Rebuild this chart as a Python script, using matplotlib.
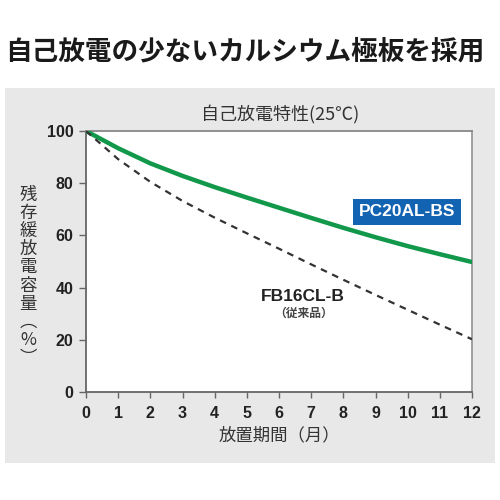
import matplotlib
matplotlib.use("Agg")
import matplotlib.pyplot as plt
from matplotlib.patches import Rectangle

plt.rcParams['font.family'] = ['Liberation Sans', 'Noto Sans CJK JP', 'DejaVu Sans']

# data
months = [0, 1, 2, 3, 4, 5, 6, 7, 8, 9, 10, 11, 12]
pc20al_bs = [100, 93.4, 87.6, 82.8, 78.5, 74.5, 70.6, 66.7, 62.9, 59.3, 55.9, 52.8, 49.8]
fb16cl_b = [100, 89.2, 80.5, 73.2, 66.8, 60.8, 54.9, 48.9, 43.0, 37.2, 31.5, 25.8, 20.2]

x_ticks = list(range(13))
y_ticks = [0, 20, 40, 60, 80, 100]

title = "自己放電の少ないカルシウム極板を採用"
subtitle = "自己放電特性(25℃)"
x_label = "放置期間（月）"
y_label = ["残", "存", "緩", "放", "電", "容", "量", "︵", "%", "︶"]

green = "#12984a"
blue = "#1363b3"
dark = "#222222"
cjk = ['Noto Sans CJK JP', 'DejaVu Sans']

fig = plt.figure(figsize=(5, 5), dpi=100)
fig.patch.set_facecolor("white")

# gray panel behind the chart
fig.patches.append(Rectangle((0.01, 0.074), 0.98, 0.75, transform=fig.transFigure,
                             facecolor="#e8e8e8", edgecolor="none", zorder=-5))

fig.text(0.49, 0.896, title, ha="center", va="center", fontsize=19.2,
         fontweight="bold", family=cjk, color="#1a1a1a")
fig.text(0.56, 0.77, subtitle, ha="center", va="center", fontsize=13,
         family=cjk, color="#333333")

ax = fig.add_axes([0.172, 0.216, 0.772, 0.522])
ax.set_zorder(2)
ax.set_facecolor("white")

ax.plot(months, pc20al_bs, color=green, lw=3.2, solid_capstyle="round", zorder=3)
ax.plot(months, fb16cl_b, color="#333333", lw=1.6, dashes=(3, 2.6), zorder=3)

ax.set_xlim(0, 12)
ax.set_ylim(0, 100)
ax.set_xticks(x_ticks)
ax.set_yticks(y_ticks)
ax.set_xticklabels([str(v) for v in x_ticks], fontweight="bold", fontsize=11.5, color=dark)
ax.set_yticklabels([str(v) for v in y_ticks], fontweight="bold", fontsize=11.5, color=dark)
ax.tick_params(axis="y", direction="out", length=5, width=1, color="#666666", pad=4)
ax.tick_params(axis="x", direction="out", length=4, width=1, color="#666666", pad=6)
for s in ax.spines.values():
    s.set_color("#666666")
    s.set_linewidth(1.3)
ax.spines["right"].set_color("#999999")
ax.spines["top"].set_color("#888888")

ax.set_xlabel(x_label, family=cjk, fontsize=12.5, color="#333333", labelpad=4)

# vertical y label, one character per row
for i, ch in enumerate(y_label):
    fig.text(0.056, 0.61 - i * 0.0362, ch, ha="center", va="center",
             fontsize=12.5, family=cjk, color="#333333")

ax.text(9.98, 69, "PC20AL-BS", ha="center", va="center", fontsize=12.5,
        fontweight="bold", color="white",
        bbox=dict(boxstyle="square,pad=0.32", facecolor=blue, edgecolor="none"))
ax.text(6.75, 36.4, "FB16CL-B", ha="center", va="center", fontsize=12.5,
        fontweight="bold", color=dark)
ax.text(6.75, 30.2, "（従来品）", ha="center", va="center", fontsize=8.5,
        fontweight="bold", family=cjk, color="#444444")

fig.savefig("out.png", dpi=100)
